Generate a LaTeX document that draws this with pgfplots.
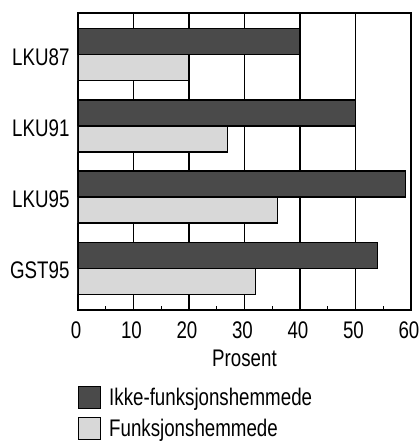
\documentclass[border=0pt]{standalone}
\usepackage{pgfplots}
\pgfplotsset{compat=1.18}
\usepackage{fontspec}
\setmainfont{Liberation Sans}[FakeStretch=0.78]
\definecolor{darkbar}{HTML}{4A4A4A}
\definecolor{lightbar}{HTML}{D8D8D8}
\newcommand{\bigf}{\fontsize{24}{28}\selectfont}
\begin{document}
\begin{tikzpicture}
\useasboundingbox (0,0) rectangle (418pt,442pt);
\begin{axis}[
  at={(78pt,132pt)}, anchor=south west,
  scale only axis, width=333pt, height=297pt,
  xbar, xmin=0, xmax=60, ymin=-0.59, ymax=3.59,
  bar width=0.366,
  ytick={0,1,2,3}, yticklabels={GST95,LKU95,LKU91,LKU87},
  ytick style={draw=none},
  xtick={0,10,...,60}, minor xtick={5,15,...,55},
  xtick pos=bottom,
  major tick length=0pt, minor tick length=4pt,
  minor tick style={black, line width=1pt},
  xmajorgrids, major grid style={black, line width=1.1pt},
  axis line style={line width=1.1pt},
  /pgf/number format/assume math mode=true,
  ticklabel style={font=\bigf},
  yticklabel style={xshift=-5pt, yshift=-2pt},
  xticklabel style={anchor=center, yshift=-20pt, xshift=-2pt},
  xlabel={Prosent},
  xlabel style={font=\bigf, at={(axis description cs:0.5,0)}, anchor=center, yshift=-48pt},
  legend style={at={(rel axis cs:0,0)}, anchor=north west, yshift=-76pt,
    draw=none, fill=none, inner sep=0pt, row sep=8pt,
    font=\bigf,
    /tikz/every odd column/.append style={column sep=6pt}},
  legend cell align=left,
  legend image code/.code={\draw[#1, line width=1pt] (0pt,-11pt) rectangle (22pt,11pt);},
]
\addplot[draw=black, line width=1.1pt, fill=darkbar, bar shift=0.183]
  coordinates {(54,0) (59,1) (50,2) (40,3)};
\addlegendentry{Ikke-funksjonshemmede}
\addplot[draw=black, line width=1.1pt, fill=lightbar, bar shift=-0.183]
  coordinates {(32,0) (36,1) (27,2) (20,3)};
\addlegendentry{Funksjonshemmede}
\end{axis}
\end{tikzpicture}
\end{document}
